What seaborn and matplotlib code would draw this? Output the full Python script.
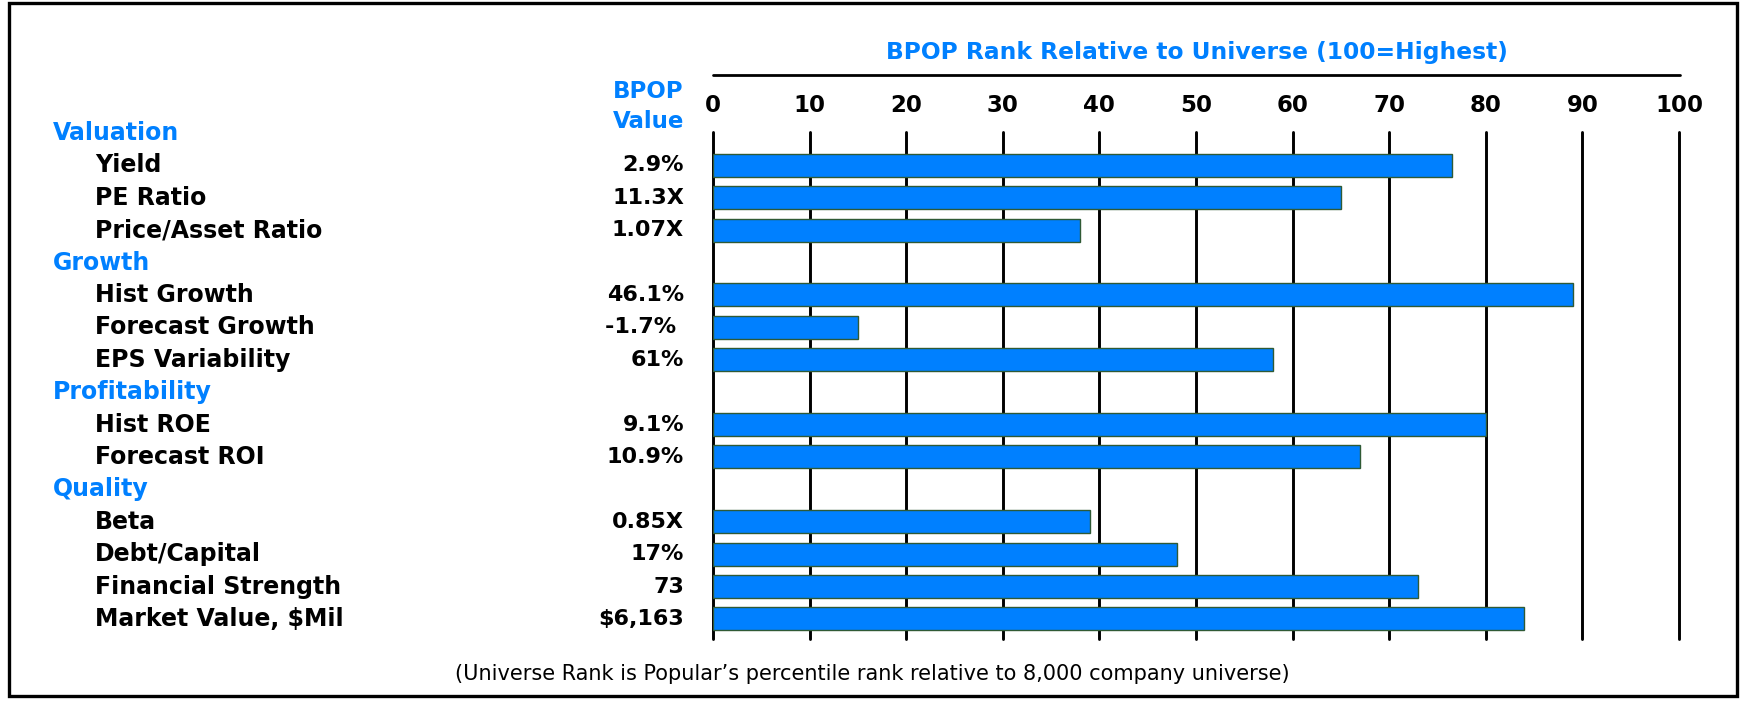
import matplotlib
matplotlib.use("Agg")
import matplotlib.pyplot as plt
import matplotlib.transforms as mtransforms
from matplotlib.patches import Rectangle
from matplotlib.lines import Line2D
import numpy as np
import pandas as pd
import seaborn as sns

# Data
groups = ["Valuation", "Growth", "Profitability", "Quality"]
metrics = [
    "Yield", "PE Ratio", "Price/Asset Ratio",
    "Hist Growth", "Forecast Growth", "EPS Variability",
    "Hist ROE", "Forecast ROI",
    "Beta", "Debt/Capital", "Financial Strength", "Market Value, $Mil",
]
metric_group = [
    "Valuation", "Valuation", "Valuation",
    "Growth", "Growth", "Growth",
    "Profitability", "Profitability",
    "Quality", "Quality", "Quality", "Quality",
]
bpop_values = ["2.9%", "11.3X", "1.07X", "46.1%", "-1.7% ", "61%",
               "9.1%", "10.9%", "0.85X", "17%", "73", "$6,163"]
ranks = [76.5, 65, 38, 89, 15, 58, 80, 67, 39, 48, 73, 84]
x_ticks = list(range(0, 101, 10))

BLUE = "#0080ff"
W, H = 1744, 704

sns.set_theme(style="white")
plt.rcParams["font.family"] = ["DejaVu Sans"]

df = pd.DataFrame({"metric": metrics, "group": metric_group,
                   "value": bpop_values, "rank": ranks})

# row order: group header followed by its metrics
row_order = []
for g in groups:
    row_order.append(g)
    row_order.extend(df.loc[df["group"] == g, "metric"].tolist())

fig = plt.figure(figsize=(W / 100, H / 100), dpi=100)
ax = fig.add_axes([713 / W, 1 - 639 / H, (1679 - 713) / W, (639 - 132) / H])

sns.barplot(data=df, x="rank", y="metric", order=row_order, color=BLUE,
            saturation=1, edgecolor="#2f5a35", linewidth=1, width=0.71,
            errorbar=None, ax=ax)

ax.set_xlim(0, 100)
ax.set_ylim(15.62, -0.03)
ax.set_xticks(x_ticks)
ax.xaxis.tick_top()
ax.tick_params(axis="x", length=0, pad=11, labelsize=16.5, labelcolor="black")
for lbl in ax.get_xticklabels():
    lbl.set_fontweight("bold")
ax.set_yticks([])
ax.set_xlabel("")
ax.set_ylabel("")
for s in ax.spines.values():
    s.set_visible(False)
ax.grid(axis="x", color="black", linewidth=2.1)
for gl in ax.get_xgridlines():
    gl.set_clip_on(False)
ax.set_axisbelow(True)

# left-hand labels
trans = mtransforms.blended_transform_factory(fig.transFigure, ax.transData)
for i, name in enumerate(row_order):
    if name in groups:
        ax.text(53 / W, i, name, transform=trans, ha="left", va="center",
                fontsize=17, fontweight="bold", color=BLUE)
    else:
        row = df[df["metric"] == name].iloc[0]
        ax.text(95 / W, i, name, transform=trans, ha="left", va="center",
                fontsize=17, fontweight="bold", color="black")
        ax.text(684 / W, i, row["value"], transform=trans, ha="right",
                va="center", fontsize=16, fontweight="bold", color="black")

fig.text(683 / W, 1 - 92 / H, "BPOP", ha="right", va="center",
         fontsize=16.5, fontweight="bold", color=BLUE)
fig.text(684 / W, 1 - 121 / H, "Value", ha="right", va="center",
         fontsize=16.5, fontweight="bold", color=BLUE)

fig.text(1197 / W, 1 - 52 / H, "BPOP Rank Relative to Universe (100=Highest)",
         ha="center", va="center", fontsize=16.8, fontweight="bold", color=BLUE)
fig.add_artist(Line2D([713 / W, 1680 / W], [1 - 75 / H] * 2,
                      color="black", linewidth=2))

fig.text(872 / W, 1 - 674 / H,
         "(Universe Rank is Popular\u2019s percentile rank relative to 8,000 company universe)",
         ha="center", va="center", fontsize=15, color="black")

fig.add_artist(Rectangle((9 / W, 1 - 696 / H), (1737 - 9) / W, (696 - 3) / H,
                         transform=fig.transFigure, fill=False,
                         edgecolor="black", linewidth=2.4))

fig.savefig("out.png", dpi=100)
plt.close(fig)
